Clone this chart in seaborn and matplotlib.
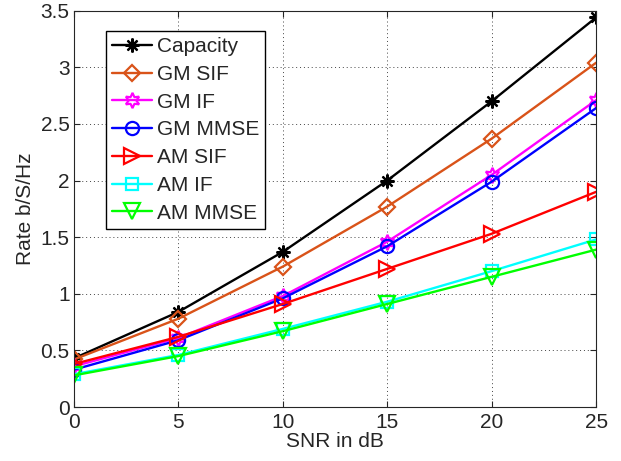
import matplotlib
matplotlib.use("Agg")
import matplotlib.pyplot as plt
import pandas as pd
import seaborn as sns

# data
snr = [0, 5, 10, 15, 20, 25]
capacity = [0.43, 0.84, 1.37, 2.00, 2.70, 3.44]
gm_sif = [0.42, 0.78, 1.24, 1.77, 2.37, 3.04]
gm_if = [0.36, 0.61, 0.98, 1.46, 2.05, 2.71]
gm_mmse = [0.33, 0.59, 0.96, 1.42, 1.99, 2.64]
am_sif = [0.38, 0.62, 0.91, 1.22, 1.53, 1.90]
am_if = [0.29, 0.46, 0.69, 0.93, 1.20, 1.48]
am_mmse = [0.28, 0.45, 0.67, 0.91, 1.15, 1.39]

labels = ["Capacity", "GM SIF", "GM IF", "GM MMSE", "AM SIF", "AM IF", "AM MMSE"]
series = [capacity, gm_sif, gm_if, gm_mmse, am_sif, am_if, am_mmse]
colors = ["black", "#D95319", "magenta", "blue", "red", "cyan", "#00FF00"]
markers = [(8, 2, 0), "D", (6, 1, 0), "o", ">", "s", "v"]
msizes = [10, 8.5, 11, 9.5, 11, 8.5, 11]

sns.set_style("ticks")
plt.rcParams['font.family'] = ['Liberation Sans', 'DejaVu Sans']
fs = 15

fig = plt.figure(figsize=(6.21, 4.61), dpi=100)
ax = fig.add_axes([0.119, 0.117, 0.841, 0.860])

for lab, vals, c, m, ms in zip(labels, series, colors, markers, msizes):
    df = pd.DataFrame({"SNR": snr, "Rate": vals})
    sns.lineplot(data=df, x="SNR", y="Rate", ax=ax, color=c, marker=m,
                 markersize=ms, markerfacecolor="none", markeredgecolor=c,
                 markeredgewidth=1.6, linewidth=1.7, label=lab)

ax.set_xlim(0, 25)
ax.set_ylim(0, 3.5)
ax.set_xticks(snr)
ax.set_yticks([0, 0.5, 1, 1.5, 2, 2.5, 3, 3.5])
ax.set_yticklabels(["0", "0.5", "1", "1.5", "2", "2.5", "3", "3.5"])
ax.grid(True, linestyle=(0, (1, 3)), color="#444444", linewidth=0.7)
ax.tick_params(direction="in", labelsize=fs, top=True, right=True, length=4,
               width=0.8)
ax.tick_params(axis="x", pad=4)
ax.tick_params(axis="y", pad=3)
for s in ax.spines.values():
    s.set_linewidth(0.8)
ax.set_xlabel("SNR in dB", fontsize=fs, labelpad=0.5)
ax.set_ylabel("Rate b/S/Hz", fontsize=fs, labelpad=4)

leg = ax.legend(loc="upper left", bbox_to_anchor=(0.061, 0.949), fontsize=fs,
                frameon=True, fancybox=False, edgecolor="black", framealpha=1,
                handlelength=1.9, borderpad=0.3, labelspacing=0.42,
                handletextpad=0.25, borderaxespad=0)
leg.get_frame().set_linewidth(1.0)

plt.savefig("out.png", dpi=100)
